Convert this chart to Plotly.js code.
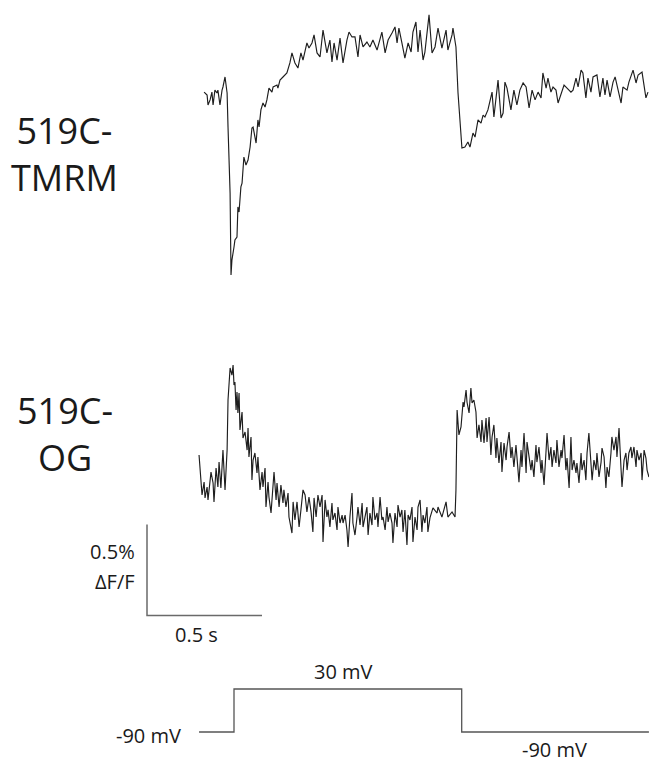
<!DOCTYPE html>
<html>
<head>
<meta charset="utf-8">
<script src="https://cdn.plot.ly/plotly-3.0.1.min.js"></script>
<style>
  html, body { margin: 0; padding: 0; background: #ffffff; }
  #chart { width: 649px; height: 764px; }
</style>
</head>
<body>
<div id="chart"></div>
<script>
// ---------------- DATA ----------------
// Time (s, 0 = voltage step onset) and fluorescence change (% dF/F, relative to baseline)
const tmrmTime = [
  -0.130,-0.117,-0.113,-0.104,-0.096,-0.091,-0.083,-0.074,-0.070,-0.061,
  -0.052,-0.048,-0.039,-0.030,-0.026,-0.017,-0.013,-0.009,0.000,0.004,
  0.013,0.017,0.022,0.030,0.035,0.043,0.052,0.061,0.070,0.078,
  0.083,0.096,0.104,0.109,0.117,0.126,0.135,0.143,0.152,0.165,
  0.170,0.187,0.191,0.200,0.213,0.230,0.243,0.252,0.265,0.278,
  0.291,0.300,0.317,0.326,0.339,0.348,0.361,0.374,0.387,0.404,
  0.417,0.426,0.435,0.448,0.461,0.474,0.491,0.500,0.513,0.526,
  0.539,0.548,0.561,0.578,0.591,0.604,0.622,0.635,0.643,0.657,
  0.670,0.687,0.700,0.709,0.717,0.730,0.743,0.757,0.770,0.778,
  0.791,0.800,0.809,0.822,0.830,0.848,0.861,0.874,0.887,0.904,
  0.922,0.930,0.948,0.952,0.965,0.974,0.983,0.991,1.004,1.017,
  1.026,1.039,1.048,1.061,1.074,1.083,1.091,1.104,1.122,1.130,
  1.148,1.161,1.170,1.178,1.187,1.204,1.217,1.230,1.243,1.257,
  1.270,1.283,1.296,1.309,1.322,1.335,1.343,1.357,1.365,1.378,
  1.387,1.400,1.409,1.422,1.435,1.448,1.465,1.474,1.487,1.496,
  1.509,1.517,1.530,1.539,1.552,1.561,1.578,1.591,1.604,1.613,
  1.622,1.635,1.648,1.657,1.670,1.683,1.691,1.709,1.717,1.735,
  1.748,1.757,1.774,1.783,1.791,1.800
];
const tmrmDFF = [
  0.016,0,-0.055,-0.027,0.016,-0.055,0.027,0.011,0.027,-0.055,
  0.027,0.044,0.099,0.011,-0.176,-0.538,-0.989,-0.907,-0.835,-0.797,
  -0.780,-0.615,-0.643,-0.505,-0.484,-0.341,-0.385,-0.357,-0.286,-0.181,
  -0.176,-0.264,-0.137,-0.176,-0.082,-0.044,-0.066,-0.027,0.038,0.016,
  0.044,0.055,0.038,0.082,0.099,0.121,0.176,0.231,0.176,0.148,
  0.231,0.192,0.286,0.258,0.286,0.330,0.231,0.209,0.357,0.231,
  0.302,0.181,0.286,0.192,0.313,0.176,0.302,0.346,0.319,0.319,
  0.209,0.330,0.264,0.291,0.264,0.302,0.247,0.302,0.346,0.231,
  0.302,0.341,0.374,0.286,0.368,0.286,0.203,0.286,0.236,0.346,
  0.401,0.236,0.357,0.192,0.236,0.440,0.231,0.264,0.368,0.258,
  0.357,0.247,0.330,0.368,0.264,0.011,-0.154,-0.291,-0.286,-0.258,
  -0.286,-0.209,-0.231,-0.137,-0.154,-0.110,-0.121,-0.082,0.016,-0.121,
  0.082,-0.126,-0.099,0.071,0.038,-0.082,0.027,-0.055,0.027,0.066,
  0.044,-0.071,0.027,-0.027,0.016,-0.016,0.121,0.038,0.093,0.016,
  0.044,0.027,-0.044,0.011,0.055,0.038,0.016,0.027,0.093,0.044,
  0.137,0.121,-0.016,0.093,0.016,0.099,0.110,-0.011,0.093,0,
  0.082,-0.011,0.071,0.099,0.027,-0.044,0.044,0.027,0.071,0.137,
  0.066,0.110,0.126,0.055,-0.016,0.016
];

const ogTime = [
  -0.152,-0.143,-0.139,-0.130,-0.126,-0.117,-0.113,-0.100,-0.091,-0.087,
  -0.078,-0.070,-0.065,-0.057,-0.052,-0.048,-0.039,-0.035,-0.030,-0.026,
  -0.017,-0.009,-0.004,0.000,0.004,0.009,0.013,0.017,0.022,0.026,
  0.035,0.039,0.048,0.057,0.061,0.065,0.074,0.078,0.083,0.091,
  0.100,0.104,0.113,0.122,0.126,0.135,0.139,0.148,0.152,0.161,
  0.170,0.174,0.183,0.187,0.196,0.204,0.213,0.217,0.226,0.235,
  0.239,0.252,0.257,0.265,0.274,0.283,0.291,0.300,0.309,0.317,
  0.326,0.335,0.343,0.348,0.357,0.365,0.374,0.383,0.387,0.396,
  0.404,0.409,0.417,0.426,0.430,0.439,0.448,0.452,0.461,0.470,
  0.474,0.483,0.491,0.496,0.504,0.513,0.517,0.526,0.535,0.539,
  0.548,0.557,0.561,0.570,0.578,0.583,0.591,0.600,0.604,0.613,
  0.622,0.626,0.635,0.643,0.648,0.657,0.665,0.670,0.678,0.687,
  0.691,0.700,0.709,0.713,0.722,0.730,0.735,0.743,0.752,0.757,
  0.765,0.774,0.778,0.787,0.796,0.800,0.809,0.817,0.822,0.830,
  0.839,0.843,0.852,0.865,0.883,0.887,0.904,0.922,0.930,0.948,
  0.961,0.965,0.970,0.978,0.987,0.996,1.000,1.009,1.013,1.022,
  1.030,1.035,1.043,1.052,1.057,1.065,1.074,1.078,1.087,1.096,
  1.100,1.109,1.117,1.122,1.130,1.139,1.143,1.152,1.161,1.165,
  1.174,1.183,1.187,1.196,1.204,1.209,1.217,1.226,1.230,1.239,
  1.248,1.252,1.261,1.270,1.274,1.283,1.291,1.296,1.304,1.313,
  1.317,1.326,1.335,1.339,1.348,1.357,1.361,1.370,1.378,1.383,
  1.391,1.400,1.404,1.413,1.422,1.426,1.435,1.443,1.448,1.457,
  1.465,1.470,1.478,1.487,1.491,1.500,1.509,1.513,1.522,1.530,
  1.535,1.543,1.552,1.557,1.565,1.574,1.578,1.587,1.596,1.600,
  1.609,1.617,1.622,1.630,1.639,1.643,1.652,1.661,1.665,1.674,
  1.683,1.687,1.696,1.704,1.709,1.717,1.726,1.730,1.739,1.748,
  1.752,1.761,1.770,1.774,1.783,1.791,1.796,1.804
];
const ogDFF = [
  0.165,0.011,-0.055,0.016,-0.071,-0.011,-0.082,0.071,0.011,-0.093,
  0.093,-0.011,0.126,-0.016,0.148,0.192,-0.027,0.099,0.192,0.467,
  0.643,0.604,0.659,0.549,0.566,0.412,0.511,0.396,0.505,0.302,
  0.401,0.258,0.291,0.192,0.313,0.154,0.264,0.027,0.137,0.176,
  0.066,0.154,-0.027,0.071,-0.011,0.093,-0.121,0.016,-0.066,-0.154,
  -0.027,0.071,-0.082,0.011,-0.121,0,-0.099,-0.027,-0.121,-0.044,
  -0.176,-0.264,-0.093,-0.192,-0.093,-0.231,-0.137,-0.027,-0.055,-0.148,
  -0.066,-0.148,-0.258,-0.071,-0.176,-0.055,-0.121,-0.055,-0.313,-0.082,
  -0.176,-0.137,-0.231,-0.099,-0.192,-0.154,-0.247,-0.121,-0.209,-0.165,
  -0.209,-0.165,-0.247,-0.341,-0.176,-0.044,-0.209,-0.275,-0.176,-0.121,
  -0.220,-0.099,-0.231,-0.176,-0.121,-0.275,-0.154,-0.220,-0.066,-0.192,
  -0.154,-0.231,-0.066,-0.192,-0.176,-0.247,-0.121,-0.203,-0.154,-0.209,
  -0.319,-0.154,-0.231,-0.110,-0.176,-0.137,-0.258,-0.137,-0.330,-0.165,
  -0.192,-0.121,-0.313,-0.176,-0.247,-0.121,-0.082,-0.258,-0.165,-0.209,
  -0.121,-0.258,-0.181,-0.126,-0.154,-0.121,-0.176,-0.093,-0.176,-0.148,
  -0.176,-0.027,0.412,0.275,0.319,0.456,0.429,0.522,0.456,0.396,
  0.533,0.451,0.467,0.401,0.258,0.330,0.236,0.357,0.231,0.368,
  0.236,0.374,0.165,0.264,0.330,0.148,0.258,0.121,0.236,0.071,
  0.231,0.137,0.209,0.291,0.148,0.209,0.099,0.220,0.137,0.016,
  0.192,0.099,0.286,0.066,0.236,0.154,0.082,0.137,0.044,0.220,
  0.126,0.209,0.066,0.137,0,0.192,0.286,0.137,0.209,0.099,
  0.192,0.121,0.247,0.099,0.192,0.148,0.275,0.082,0.148,-0.016,
  0.264,0.082,0.137,0.066,0.121,0.011,0.176,0.082,0.137,0.027,
  0.176,0.286,0.121,0.027,0.137,0.082,0.176,0.044,0.126,0.203,
  0.154,-0.016,0.099,0.044,0.176,0.264,0.192,0.264,0.154,0.313,
  0.082,-0.011,0.137,0.176,0.082,0.176,0.209,0.148,0.209,0.099,
  0.192,0.137,0.176,0.027,0.192,0.148,0.082,0.044
];

// Voltage protocol (s, mV)
const protoTime = [-0.152, 0, 0, 0.99, 0.99, 1.804];
const protoMV   = [-90, -90, 30, 30, -90, -90];

// Scale bars: 0.5 % dF/F and 0.5 s
const scaleLenDFF = 0.5;
const scaleLenSec = 0.5;

// Labels
const traceLabels = ["519C-<br>TMRM", "519C-<br>OG"];
const scaleLabels = ["0.5%", "\u0394F/F", "0.5 s"];
const voltLabels = ["-90 mV", "30 mV", "-90 mV"];

// ---------------- LAYOUT (pixel geometry) ----------------
const W = 649, H = 764;
const pxPerSec = 230, t0px = 234;      // x pixel of t = 0
const pxPerPct = 182;
const tmrmBasePx = 95, ogBasePx = 485; // baseline pixel rows
const mvPerPx = 120 / 43, lowMvPx = 732;

const xRange = [-t0px / pxPerSec, (W - t0px) / pxPerSec];
const y1Range = [(tmrmBasePx - H) / pxPerPct, tmrmBasePx / pxPerPct];
const y2Range = [(ogBasePx - H) / pxPerPct, ogBasePx / pxPerPct];
const y3Hi = -90 + lowMvPx * mvPerPx;
const y3Range = [y3Hi - H * mvPerPx, y3Hi];

// scale bar corner
const sbT = (147 - t0px) / pxPerSec;
const sbV = (ogBasePx - 615.5) / pxPerPct;

const lineCol = '#1e1e1e';
const traces = [
  { x: tmrmTime, y: tmrmDFF, xaxis: 'x', yaxis: 'y', mode: 'lines',
    line: { color: lineCol, width: 1.15 }, hoverinfo: 'skip' },
  { x: ogTime, y: ogDFF, xaxis: 'x', yaxis: 'y2', mode: 'lines',
    line: { color: lineCol, width: 1.15 }, hoverinfo: 'skip' },
  { x: [sbT, sbT, sbT + scaleLenSec], y: [sbV + scaleLenDFF, sbV, sbV],
    xaxis: 'x', yaxis: 'y2', mode: 'lines',
    line: { color: '#6a6a6a', width: 1.5 }, hoverinfo: 'skip' },
  { x: protoTime, y: protoMV, xaxis: 'x', yaxis: 'y3', mode: 'lines',
    line: { color: '#555555', width: 1.3 }, hoverinfo: 'skip' }
];

function ann(text, px, py, size, xanchor) {
  return { xref: 'paper', yref: 'paper', x: px / W, y: 1 - py / H,
    text: text, showarrow: false, xanchor: xanchor || 'center', yanchor: 'middle',
    align: 'center',
    font: { family: 'Open Sans, sans-serif', size: size, color: '#1a1a1a' } };
}

const annotations = [
  ann(traceLabels[0], 64, 154, 36),
  ann(traceLabels[1], 65, 434, 36),
  ann(scaleLabels[0], 137, 551, 20, 'right'),
  ann(scaleLabels[1], 137, 581, 20, 'right'),
  ann(scaleLabels[2], 173, 634, 20, 'left'),
  ann(voltLabels[0], 183, 735, 20, 'right'),
  ann(voltLabels[1], 343, 671, 20),
  ann(voltLabels[2], 554, 749, 20)
];

const axisOff = { visible: false, showgrid: false, zeroline: false, showticklabels: false, fixedrange: true };

const layout = {
  width: W, height: H,
  margin: { l: 0, r: 0, t: 0, b: 0, pad: 0 },
  paper_bgcolor: '#ffffff', plot_bgcolor: '#ffffff',
  showlegend: false,
  xaxis: Object.assign({ range: xRange }, axisOff),
  yaxis: Object.assign({ range: y1Range }, axisOff),
  yaxis2: Object.assign({ range: y2Range, overlaying: 'y' }, axisOff),
  yaxis3: Object.assign({ range: y3Range, overlaying: 'y' }, axisOff),
  annotations: annotations
};

Plotly.newPlot('chart', traces, layout, { staticPlot: true, displayModeBar: false });
</script>
</body>
</html>
